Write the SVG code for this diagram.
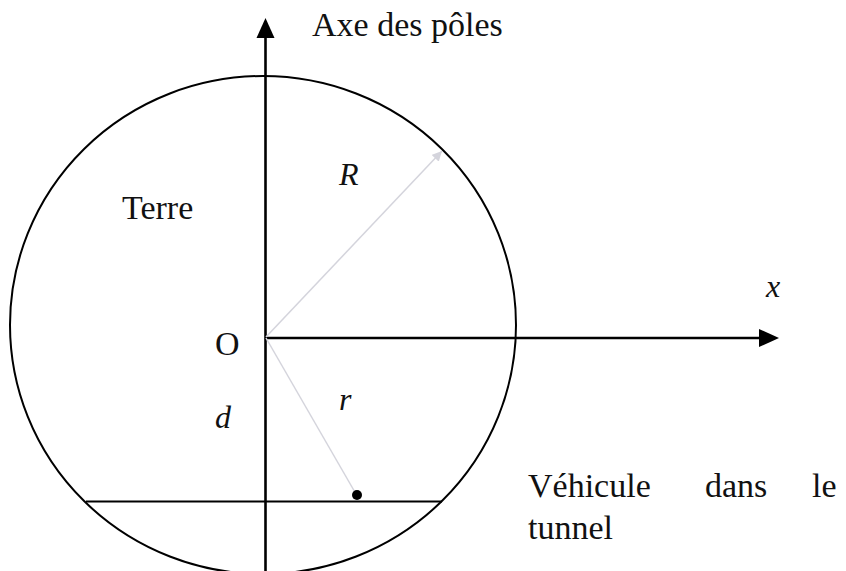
<svg xmlns="http://www.w3.org/2000/svg" width="846" height="571" viewBox="0 0 846 571">
<style>
.t{font-family:"Liberation Serif","Times New Roman",serif;font-size:34px;fill:#111}
.m{font-family:"Liberation Serif","DejaVu Serif",serif;font-style:italic;font-size:32px;fill:#111}
.ax{stroke:#000;stroke-width:2.6;fill:none}
.ln{stroke:#000;stroke-width:2;fill:none}
.gr{stroke:#d4d4dc;stroke-width:1.5;fill:none}
</style>
<defs>
<marker id="ah" viewBox="0 0 10 10" refX="10" refY="5" markerWidth="10" markerHeight="10" markerUnits="userSpaceOnUse" orient="auto">
<path d="M0,0 L10,5 L0,10 z" fill="#d4d4dc"/>
</marker>
</defs>
<rect width="846" height="571" fill="#fff"/>
<g id="earth">
<ellipse cx="263" cy="325" rx="253" ry="249" class="ln"/>
<text class="t" x="122" y="219">Terre</text>
</g>
<g id="connectors">
<line x1="265.5" y1="571" x2="265.5" y2="36" class="ax"/>
<polygon points="265.5,18 256.5,38 274.5,38" fill="#000"/>
<line x1="265.5" y1="338" x2="762" y2="338" class="ax"/>
<polygon points="779,338 759,329 759,347" fill="#000"/>
<line x1="86" y1="501.5" x2="442" y2="501.5" class="ln"/>
<line x1="266" y1="337" x2="442" y2="151" class="gr" marker-end="url(#ah)"/>
<line x1="266" y1="338" x2="356" y2="494" class="gr"/>
</g>
<g id="pole-axis-label"><text class="t" x="312" y="36">Axe des pôles</text></g>
<g id="x-label"><text class="m" x="766" y="297">x</text></g>
<g id="origin"><text class="t" x="215" y="355">O</text></g>
<g id="R-label"><text class="m" x="339" y="185">R</text></g>
<g id="r-label"><text class="m" x="339" y="410">r</text></g>
<g id="d-label"><text class="m" x="215" y="428">d</text></g>
<g id="vehicle">
<circle cx="357" cy="495" r="5" fill="#000"/>
<text class="t" x="528" y="497">Véhicule</text>
<text class="t" x="705" y="497">dans</text>
<text class="t" x="812" y="497">le</text>
<text class="t" x="528" y="539">tunnel</text>
</g>
</svg>
